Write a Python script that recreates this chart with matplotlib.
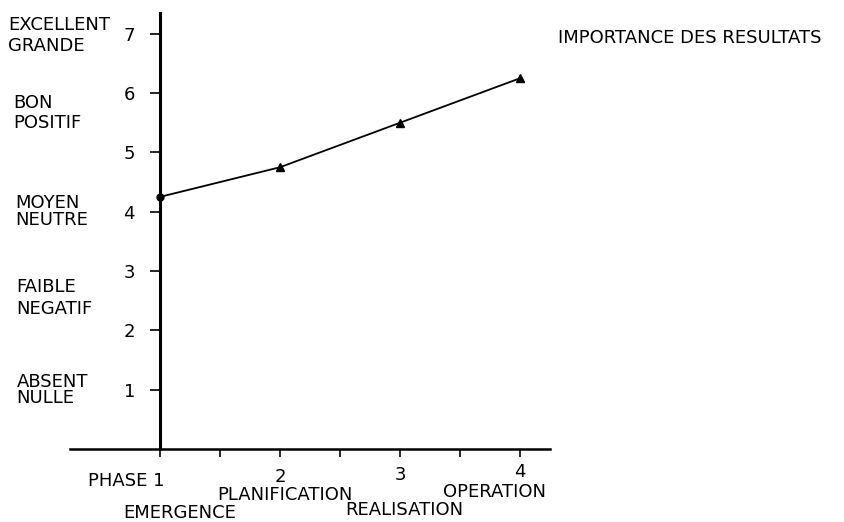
import numpy as np
import matplotlib.pyplot as plt

# data
phases = [1, 2, 3, 4]
scores = [4.25, 4.75, 5.5, 6.25]
yticks = [1, 2, 3, 4, 5, 6, 7]
xlabels = ["2", "3", "4"]
phase_names = ["EMERGENCE", "PLANIFICATION", "REALISATION", "OPERATION"]
levels = ["EXCELLENT\nGRANDE", "BON\nPOSITIF", "MOYEN\nNEUTRE",
          "FAIBLE\nNEGATIF", "ABSENT\nNULLE"]

fig = plt.figure(figsize=(8.44, 5.22), dpi=100)
ax = fig.add_axes([70/844, 73/522, 480/844, 436/522])
ax.set_xlim(0.25, 4.25)
ax.set_ylim(0, 7.35)

for s in ["top", "right"]:
    ax.spines[s].set_visible(False)
ax.spines["left"].set_position(("data", 1))
ax.spines["left"].set_linewidth(2.2)
ax.spines["bottom"].set_linewidth(1.8)

fs = 13
ax.set_yticks(yticks)
ax.set_yticklabels([str(v) for v in yticks], fontsize=fs)
ax.tick_params(axis="y", direction="out", length=7, width=1.2, pad=11)

ax.set_xticks([1, 1.5, 2, 2.5, 3, 3.5, 4])
ax.set_xticklabels([""] * 7)
ax.tick_params(axis="x", direction="out", length=6, width=1.2)

ax.plot(phases, scores, color="black", lw=1.3)
ax.plot(phases[1:], scores[1:], "^", color="black", ms=6)
ax.plot(phases[:1], scores[:1], "o", color="black", ms=5)

ax.text(1.04, -0.624, "PHASE 1", ha="right", va="baseline", fontsize=fs, clip_on=False)
num_y = [-0.557, -0.523, -0.472]
for x, y, lab in zip(phases[1:], num_y, xlabels):
    ax.text(x, y, lab, ha="center", va="baseline", fontsize=fs, clip_on=False)

name_pos = [(1.16, -1.164), (2.04, -0.86), (3.04, -1.113), (3.79, -0.809)]
for (x, y), lab in zip(name_pos, phase_names):
    ax.text(x, y, lab, ha="center", va="baseline", fontsize=fs, clip_on=False)

level_pos = [(-0.265, 6.965, 1.22), (-0.225, 5.66, 1.17), (-0.21, 4.005, 0.96),
             (-0.195, 2.546, 1.22), (-0.195, 0.995, 0.9)]
for (x, y, ls), lab in zip(level_pos, levels):
    ax.text(x, y, lab, ha="left", va="center", fontsize=fs, linespacing=ls, clip_on=False)

fig.text(558/844, 1 - 43/522, "IMPORTANCE DES RESULTATS", ha="left", va="baseline", fontsize=fs)

fig.savefig("out.png", dpi=100)
